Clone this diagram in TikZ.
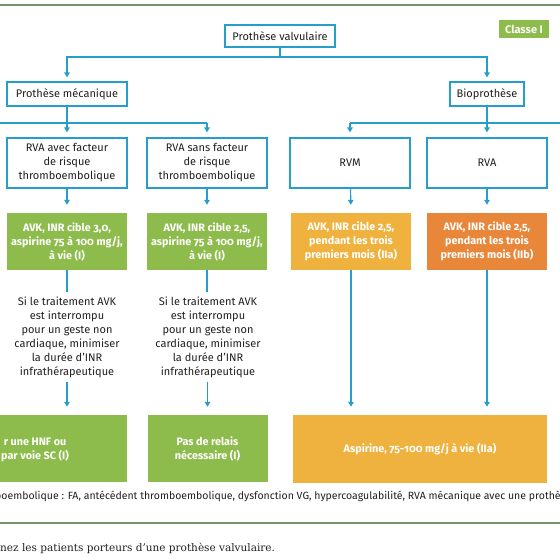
\documentclass[tikz,border=0pt]{standalone}
\usepackage{fontspec}
\setmainfont{Fira Sans}[Numbers=OldStyle]
\newfontfamily\capfont{DejaVu Serif}
\usetikzlibrary{arrows.meta}
\definecolor{flowblue}{RGB}{38,158,204}
\definecolor{avkgreen}{RGB}{141,187,76}
\definecolor{bioyellow}{RGB}{240,178,62}
\definecolor{bioorange}{RGB}{232,134,58}
\definecolor{rulegreen}{RGB}{118,146,104}
\definecolor{textdark}{RGB}{35,31,32}
\begin{document}
\begin{tikzpicture}[x=1pt,y=-1pt,
  line/.style={flowblue,line width=1.2pt},
  arr/.style={line,-{Triangle[length=5pt,width=5.5pt]},shorten >=#1},
  arr/.default=5pt,
  wbox/.style={draw=flowblue,line width=1.2pt,fill=white,text=textdark,align=center,
    inner sep=2pt,font=\fontsize{11}{14}\selectfont},
  cbox/.style={fill=#1,text=white,align=center,inner sep=2pt,
    minimum width=120pt,font=\fontsize{10.8}{14}\selectfont\bfseries},
  rule/.style={rulegreen,line width=2pt}]
  \useasboundingbox (0,0) rectangle (560,560);
  \clip (0,0) rectangle (560,560);
  \draw[rule] (-5,5) -- (565,5);
  \draw[rule] (-5,523) -- (565,523);
  % top of the tree
  \node[wbox,minimum width=110pt,minimum height=22pt] (pv) at (280,36) {Prothèse valvulaire};
  \node[cbox=avkgreen,minimum width=50pt,minimum height=18pt,font=\fontsize{11}{12}\selectfont\bfseries] (classe) at (524,29) {Classe I};
  \node[wbox,minimum width=120pt,minimum height=24pt] (meca) at (67,94) {Prothèse mécanique};
  \node[wbox,minimum width=74pt,minimum height=24pt] (bio) at (487,94) {Bioprothèse};
  \coordinate (j1) at (280,57);
  \draw[line] (pv) -- (j1);
  \draw[arr=4pt] (j1) -| (meca.north);
  \draw[arr=4pt] (j1) -| (bio.north);
  % second level
  \node[wbox,minimum width=120pt,minimum height=50pt] (ravec) at (67,163) {RVA avec facteur\\de risque\\thromboembolique};
  \node[wbox,minimum width=120pt,minimum height=50pt] (rsans) at (207,163) {RVA sans facteur\\de risque\\thromboembolique};
  \node[wbox,minimum width=120pt,minimum height=50pt] (rvm) at (350,163) {RVM};
  \node[wbox,minimum width=120pt,minimum height=50pt] (rva) at (487,163) {RVA};
  \coordinate (j2) at (67,123);
  \coordinate (l1) at (-5,123);
  \coordinate (l2) at (207,123);
  \coordinate (r1) at (350,123);
  \coordinate (r2) at (565,123);
  \draw[line] (meca) -- (j2);
  \draw[line] (l1) -- (l2);
  \draw[line] (r1) -- (r2);
  \draw[arr] (j2) -- (ravec.north);
  \draw[arr] (l2) -- (rsans.north);
  \draw[arr] (r1) -- (rvm.north);
  \draw[arr] (bio) -- (rva.north);
  % treatments
  \node[cbox=avkgreen,minimum height=57pt] (avk1) at (67,241.5) {AVK, INR cible 3,0,\\aspirine 75 à 100 mg/j,\\à vie (I)};
  \node[cbox=avkgreen,minimum height=57pt] (avk2) at (207,241.5) {AVK, INR cible 2,5,\\aspirine 75 à 100 mg/j,\\à vie (I)};
  \node[cbox=bioyellow,minimum height=57pt] (avk3) at (351,241.5) {AVK, INR cible 2,5,\\pendant les trois\\premiers mois (IIa)};
  \node[cbox=bioorange,minimum height=57pt] (avk4) at (487,241.5) {AVK, INR cible 2,5,\\pendant les trois\\premiers mois (IIb)};
  \foreach \a/\b in {ravec/avk1,rsans/avk2,rvm/avk3,rva/avk4}
    \draw[arr=8pt] (\a) -- (\b.north);
  % notes
  \node[text=textdark,align=center,font=\fontsize{11}{14}\selectfont,inner sep=4pt] (si1) at (67,337) {Si le traitement AVK\\est interrompu\\pour un geste non\\cardiaque, minimiser\\la durée d’INR\\infrathérapeutique};
  \node[text=textdark,align=center,font=\fontsize{11}{14}\selectfont,inner sep=4pt] (si2) at (208,337) {Si le traitement AVK\\est interrompu\\pour un geste non\\cardiaque, minimiser\\la durée d’INR\\infrathérapeutique};
  \draw[line] (avk1) -- (si1.north);
  \draw[line] (avk2) -- (avk2.south |- si2.north);
  % bottom boxes
  \node[cbox=avkgreen,minimum width=240pt,minimum height=67pt] (relais1) at (7,448.5) {};
  \node[text=white,align=center,font=\fontsize{10.8}{14}\selectfont\bfseries,inner sep=0pt] (relais1txt) at (35,450) {r une HNF ou\\par voie SC (I)};
  \node[cbox=avkgreen,minimum height=67pt] (relais2) at (207.5,448.5) {Pas de relais\\nécessaire (I)};
  \node[cbox=bioyellow,minimum width=254pt,minimum height=68pt] (asp) at (420,449) {Aspirine, 75-100 mg/j à vie (IIa)};
  \draw[arr=8pt] (si1.south) -- (si1.south |- relais1.north);
  \draw[arr=8pt] (si2.south -| relais2) -- (relais2.north);
  \draw[arr=8pt] (avk3) -- (avk3.south |- asp.north);
  \draw[arr=8pt] (avk4) -- (avk4.south |- asp.north);
  % footnote and caption
  \node[anchor=west,text=textdark,font=\fontsize{10.5}{12}\selectfont,inner sep=0pt] (note) at (-5,496) {boembolique : FA, antécédent thromboembolique, dysfonction VG, hypercoagulabilité, RVA mécanique avec une prothèse};
  \node[anchor=west,text=textdark,font=\capfont\fontsize{10.5}{12}\selectfont,inner sep=0pt] (caption) at (0,548) {nez les patients porteurs d’une prothèse valvulaire.};
\end{tikzpicture}
\end{document}
